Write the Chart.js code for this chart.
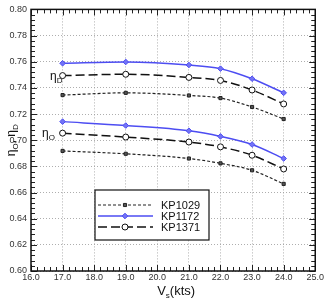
<!DOCTYPE html>
<html>
<head>
<meta charset="utf-8">
<script src="https://cdn.jsdelivr.net/npm/chart.js@4"></script>
<style>
  html, body { margin: 0; padding: 0; background: #fff; }
  canvas { display: block; }
</style>
</head>
<body>
<canvas id="effChart" width="325" height="298"></canvas>
<script>
// ship speed (kts)
const speeds = [17, 19, 21, 22, 23, 24];

// eta_D (upper group)
const kp1029EtaD = [0.7345, 0.7362, 0.7342, 0.7322, 0.7254, 0.7162];
const kp1172EtaD = [0.7588, 0.7598, 0.7575, 0.7547, 0.7470, 0.7362];
const kp1371EtaD = [0.7494, 0.7504, 0.7480, 0.7457, 0.7384, 0.7277];

// eta_O (lower group)
const kp1029EtaO = [0.6918, 0.6896, 0.6860, 0.6823, 0.6770, 0.6666];
const kp1172EtaO = [0.7142, 0.7112, 0.7072, 0.7029, 0.6967, 0.6860];
const kp1371EtaO = [0.7054, 0.7024, 0.6986, 0.6949, 0.6885, 0.6780];

const seriesNames = ["KP1029", "KP1172", "KP1371"];

const FONT = "'Liberation Sans', Arial, sans-serif";

const styles = {
  KP1029: { color: "#222", dash: [3, 2], width: 1.2, point: "rect", radius: 2.2, fill: "#555" },
  KP1172: { color: "#4d4df2", dash: [], width: 1.5, point: "rectRot", radius: 2.8, fill: "#7373f5" },
  KP1371: { color: "#111", dash: [9, 4], width: 1.5, point: "circle", radius: 3, fill: "#fff" }
};

function toPoints(ys) {
  return speeds.map((x, i) => ({ x: x, y: ys[i] }));
}

function makeDataset(name, ys) {
  const s = styles[name];
  return {
    label: name,
    data: toPoints(ys),
    borderColor: s.color,
    borderWidth: s.width,
    borderDash: s.dash,
    pointStyle: s.point,
    pointRadius: s.radius,
    pointBackgroundColor: s.fill,
    pointBorderColor: s.color,
    pointBorderWidth: 1,
    tension: 0.3,
    cubicInterpolationMode: "monotone",
    fill: false
  };
}

// frame, inward ticks, legend and eta labels
const decorPlugin = {
  id: "decor",
  afterDraw(chart) {
    const ctx = chart.ctx;
    const a = chart.chartArea;
    const xs = chart.scales.x;
    const ys = chart.scales.y;
    ctx.save();

    // ticks on all four sides
    ctx.strokeStyle = "#222";
    ctx.lineWidth = 1;
    ctx.beginPath();
    for (let i = 0; i <= 45; i++) {
      const v = 16 + i * 0.2;
      const px = Math.round(xs.getPixelForValue(v)) + 0.5;
      const len = i % 5 === 0 ? 6 : 4;
      ctx.moveTo(px, a.bottom); ctx.lineTo(px, a.bottom - len);
      ctx.moveTo(px, a.top); ctx.lineTo(px, a.top + len);
    }
    for (let i = 0; i <= 50; i++) {
      const v = 0.6 + i * 0.004;
      const py = Math.round(ys.getPixelForValue(v)) + 0.5;
      const len = i % 5 === 0 ? 6 : 4;
      ctx.moveTo(a.left, py); ctx.lineTo(a.left + len, py);
      ctx.moveTo(a.right, py); ctx.lineTo(a.right - len, py);
    }
    ctx.stroke();

    // frame
    ctx.lineWidth = 1.5;
    ctx.strokeStyle = "#111";
    ctx.strokeRect(a.left, a.top, a.right - a.left, a.bottom - a.top);

    // legend
    const lx = 95, ly = 190, lw = 114, lh = 50;
    ctx.fillStyle = "#fff";
    ctx.fillRect(lx, ly, lw, lh);
    ctx.lineWidth = 1.2;
    ctx.strokeStyle = "#111";
    ctx.setLineDash([]);
    ctx.strokeRect(lx, ly, lw, lh);
    ctx.font = "11px " + FONT;
    ctx.textBaseline = "middle";
    ctx.textAlign = "left";
    seriesNames.forEach((name, i) => {
      const s = styles[name];
      const y = ly + 15 + i * 11;
      ctx.strokeStyle = s.color;
      ctx.lineWidth = s.width;
      ctx.setLineDash(s.dash);
      ctx.beginPath();
      ctx.moveTo(lx + 3, y);
      ctx.lineTo(lx + 58, y);
      ctx.stroke();
      ctx.setLineDash([]);
      ctx.lineWidth = 1;
      ctx.fillStyle = s.fill;
      ctx.strokeStyle = s.color;
      Chart.helpers.drawPoint(ctx, { pointStyle: s.point, radius: s.radius, rotation: 0, borderWidth: 1 }, lx + 30, y);
      ctx.fillStyle = "#111";
      ctx.fillText(name, lx + 66, y + 0.5);
    });

    // eta labels next to groups
    function eta(x, y, sub) {
      ctx.fillStyle = "#111";
      ctx.textBaseline = "alphabetic";
      ctx.font = "12px " + FONT;
      ctx.fillText("\u03b7", x, y);
      const w = ctx.measureText("\u03b7").width;
      ctx.font = "8px " + FONT;
      ctx.fillText(sub, x + w, y + 3);
    }
    eta(50, 80, "D");
    eta(42, 137, "O");

    // y title, rotated
    ctx.translate(11, (a.top + a.bottom) / 2);
    ctx.rotate(-Math.PI / 2);
    const parts = [["\u03b7", 12, 0], ["O", 8, 3], [", ", 12, 0], ["\u03b7", 12, 0], ["D", 8, 3]];
    let total = 0;
    parts.forEach(p => { ctx.font = p[1] + "px " + FONT; total += ctx.measureText(p[0]).width; });
    let cx = -total / 2;
    ctx.fillStyle = "#111";
    ctx.textAlign = "left";
    ctx.textBaseline = "alphabetic";
    parts.forEach(p => {
      ctx.font = p[1] + "px " + FONT;
      ctx.fillText(p[0], cx, 4 + p[2]);
      cx += ctx.measureText(p[0]).width;
    });
    ctx.restore();

    // x title with subscript
    ctx.save();
    ctx.fillStyle = "#111";
    ctx.textBaseline = "alphabetic";
    ctx.textAlign = "left";
    const xParts = [["V", 13, 0], ["s", 8, 3], ["(kts)", 13, 0]];
    let xt = 0;
    xParts.forEach(p => { ctx.font = p[1] + "px " + FONT; xt += ctx.measureText(p[0]).width; });
    let tx = (a.left + a.right) / 2 + 3 - xt / 2;
    xParts.forEach(p => {
      ctx.font = p[1] + "px " + FONT;
      ctx.fillText(p[0], tx, 295 + p[2]);
      tx += ctx.measureText(p[0]).width;
    });
    ctx.restore();
  }
};

new Chart(document.getElementById("effChart"), {
  type: "line",
  data: {
    datasets: [
      makeDataset("KP1029", kp1029EtaD),
      makeDataset("KP1172", kp1172EtaD),
      makeDataset("KP1371", kp1371EtaD),
      makeDataset("KP1029", kp1029EtaO),
      makeDataset("KP1172", kp1172EtaO),
      makeDataset("KP1371", kp1371EtaO)
    ]
  },
  options: {
    responsive: false,
    animation: false,
    devicePixelRatio: 1,
    layout: { padding: { top: 8, right: 7, left: 0, bottom: 0 } },
    plugins: {
      legend: { display: false },
      tooltip: { enabled: false }
    },
    scales: {
      x: {
        type: "linear",
        min: 16,
        max: 25,
        afterFit(scale) { scale.height = 27; },
        ticks: {
          stepSize: 1,
          autoSkip: false,
          maxRotation: 0,
          padding: 1,
          color: "#333",
          font: { family: FONT, size: 9 },
          callback: v => Number(v).toFixed(1)
        },
        grid: { color: "#999", lineWidth: 0.8, drawTicks: false },
        border: { display: false, dash: [1, 2] }
      },
      y: {
        type: "linear",
        min: 0.6,
        max: 0.8,
        afterFit(scale) { scale.width = 31; },
        ticks: {
          stepSize: 0.02,
          autoSkip: false,
          padding: 4,
          color: "#333",
          font: { family: FONT, size: 9 },
          callback: v => Number(v).toFixed(2)
        },
        grid: { color: "#999", lineWidth: 0.8, drawTicks: false },
        border: { display: false, dash: [1, 2] }
      }
    }
  },
  plugins: [decorPlugin]
});
</script>
</body>
</html>
